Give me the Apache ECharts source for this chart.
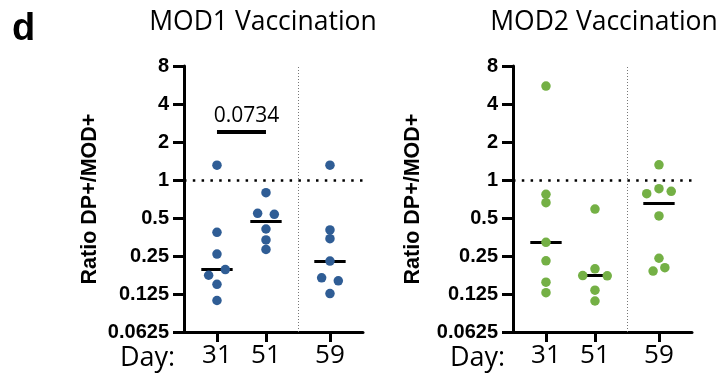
<!DOCTYPE html>
<html><head><meta charset="utf-8">
<script src="https://cdn.jsdelivr.net/npm/echarts@6/dist/echarts.min.js"></script>
<style>html,body{margin:0;padding:0;background:#fff}#c{width:721px;height:375px}</style>
</head><body><div id="c"></div>
<script>
// ---- data ----
const days = ['31', '51', '59'];
const dayPos = [1, 2, 3.306];
const yTicks = [0.0625, 0.125, 0.25, 0.5, 1, 2, 4, 8];
const titles = ['MOD1 Vaccination', 'MOD2 Vaccination'];
const yName = 'Ratio DP+/MOD+';

const mod1_d31 = [1.31, 0.385, 0.259, 0.195, 0.176, 0.149, 0.111];
const mod1_d31_jit = [0, 0, 0, 0.17, -0.17, 0, 0];
const mod1_d51 = [0.793, 0.545, 0.535, 0.409, 0.335, 0.282];
const mod1_d51_jit = [0, -0.17, 0.17, 0, 0, 0];
const mod1_d59 = [1.31, 0.402, 0.343, 0.228, 0.168, 0.159, 0.126];
const mod1_d59_jit = [0, 0, 0, 0, -0.17, 0.17, 0];

const mod2_d31 = [5.55, 0.77, 0.661, 0.321, 0.229, 0.155, 0.128];
const mod2_d31_jit = [0, 0, 0, 0, 0, 0, 0];
const mod2_d51 = [0.589, 0.198, 0.175, 0.174, 0.134, 0.110];
const mod2_d51_jit = [0, 0, -0.25, 0.25, 0, 0];
const mod2_d59 = [1.32, 0.853, 0.814, 0.779, 0.519, 0.24, 0.202, 0.19];
const mod2_d59_jit = [0, 0, 0.25, -0.25, 0, 0, 0.12, -0.12];

const sigLabel = '0.0734';
const sigY = 2.4;
const refLine = 1;
const dividerX = 2.653;

// ---- build ----
const groups = [
  {vals: [mod1_d31, mod1_d51, mod1_d59], jit: [mod1_d31_jit, mod1_d51_jit, mod1_d59_jit], color: '#2f5d95'},
  {vals: [mod2_d31, mod2_d51, mod2_d59], jit: [mod2_d31_jit, mod2_d51_jit, mod2_d59_jit], color: '#74b045'}
];
function median(a) {
  const s = a.slice().sort((x, y) => x - y);
  const n = s.length;
  return n % 2 ? s[(n - 1) / 2] : (s[n / 2 - 1] + s[n / 2]) / 2;
}
const FONT = '"Liberation Sans", Arial, sans-serif';
const FONT2 = '"Open Sans", Lato, sans-serif';
const gridLefts = [184, 513];

const grids = [], xAxes = [], yAxes = [], series = [];
groups.forEach((g, gi) => {
  grids.push({left: gridLefts[gi], top: 66, width: 179, height: 266});
  xAxes.push({
    type: 'value', gridIndex: gi, min: 0.327, max: 3.98,
    axisLine: {show: true, onZero: false, lineStyle: {color: '#000', width: 3}},
    axisTick: {show: true, customValues: dayPos, length: 10, lineStyle: {color: '#000', width: 3}},
    axisLabel: {
      show: true, customValues: dayPos, margin: 11,
      fontFamily: FONT2, fontSize: 26, color: '#000',
      formatter: v => {
        let bi = 0;
        dayPos.forEach((p, i) => { if (Math.abs(p - v) < Math.abs(dayPos[bi] - v)) bi = i; });
        return days[bi];
      }
    },
    splitLine: {show: false}
  });
  yAxes.push({
    type: 'log', logBase: 2, gridIndex: gi, min: yTicks[0], max: yTicks[yTicks.length - 1],
    interval: 1, splitNumber: 7,
    name: yName, nameLocation: 'middle', nameRotate: 90, nameGap: gi === 0 ? 83 : 89,
    nameTextStyle: {fontFamily: FONT, fontWeight: 'bold', fontSize: 21.5, color: '#000'},
    axisLine: {show: true, lineStyle: {color: '#000', width: 3}},
    axisTick: {show: true, length: 11, lineStyle: {color: '#000', width: 3}},
    axisLabel: {
      fontFamily: FONT, fontWeight: 'bold', fontSize: 20, color: '#000', margin: 15,
      formatter: v => String(+(+v).toPrecision(6))
    },
    splitLine: {show: false}, minorTick: {show: false}
  });
  const data = [];
  g.vals.forEach((arr, di) => arr.forEach((v, k) => data.push([dayPos[di] + g.jit[di][k], v])));
  const ml = [];
  ml.push({yAxis: refLine, lineStyle: {color: '#000', width: 2.5, type: [2.5, 6.3]}});
  ml.push({xAxis: dividerX, lineStyle: {color: '#777', width: 1, type: [1, 2]}});
  g.vals.forEach((arr, di) => {
    const m = median(arr);
    ml.push([{coord: [dayPos[di] - 0.32, m], lineStyle: {color: '#000', width: 3, type: 'solid'}},
             {coord: [dayPos[di] + 0.32, m]}]);
  });
  if (gi === 0) {
    ml.push([{coord: [dayPos[0], sigY], lineStyle: {color: '#000', width: 4, type: 'solid'},
              label: {show: true, position: 'middle', formatter: sigLabel, fontFamily: FONT2, fontSize: 21, color: '#000', distance: 5, offset: [5, 0]}},
             {coord: [dayPos[1], sigY]}]);
  }
  series.push({
    type: 'scatter', xAxisIndex: gi, yAxisIndex: gi, data: data,
    symbolSize: 9.5, itemStyle: {color: g.color, opacity: 1}, z: 3,
    markLine: {silent: true, symbol: 'none', label: {show: false}, data: ml, animation: false, z: 2}
  });
});

const chart = echarts.init(document.getElementById('c'), null, {renderer: 'canvas'});
chart.setOption({
  animation: false,
  grid: grids, xAxis: xAxes, yAxis: yAxes, series: series,
  graphic: [
    {type: 'text', left: 12, top: 11, style: {text: 'd', font: 'bold 38px ' + FONT, fill: '#000'}},
    {type: 'text', x: 263, y: 22, style: {text: titles[0], font: '26.5px ' + FONT2, fill: '#000', align: 'center', verticalAlign: 'middle'}},
    {type: 'text', x: 604, y: 22, style: {text: titles[1], font: '26.5px ' + FONT2, fill: '#000', align: 'center', verticalAlign: 'middle'}},
    {type: 'text', x: 120, y: 358, style: {text: 'Day:', font: '27px ' + FONT2, fill: '#000', align: 'left', verticalAlign: 'middle'}},
    {type: 'text', x: 450, y: 358, style: {text: 'Day:', font: '27px ' + FONT2, fill: '#000', align: 'left', verticalAlign: 'middle'}}
  ]
});
</script></body></html>
